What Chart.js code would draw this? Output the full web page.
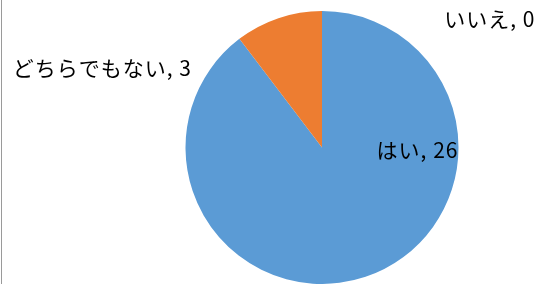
<!DOCTYPE html>
<html>
<head>
<meta charset="utf-8">
<script src="https://cdn.jsdelivr.net/npm/chart.js@4"></script>
<style>
  body { margin: 0; background: #fff; }
  #wrap { position: relative; width: 543px; height: 284px; }
  #edge { position: absolute; left: 1px; top: 0; width: 1px; height: 284px; background: #9a9a9a; }
</style>
</head>
<body>
<div id="wrap">
  <canvas id="pieChart" width="543" height="284"></canvas>
  <div id="edge"></div>
</div>
<script>
// データ
const categories = ['はい', 'いいえ', 'どちらでもない'];
const counts = [26, 0, 3];
const colors = ['#5b9bd5', '#a5a5a5', '#ed7d31'];

// ラベル位置 (中心からの半径比)
const labelPos = [[0.70, 0.02], [1.23, -0.94], [-1.61, -0.58]];

const labelPlugin = {
    id: 'pieLabels',
    afterDatasetsDraw(chart) {
        const ctx = chart.ctx;
        const arcs = chart.getDatasetMeta(0).data;
        ctx.save();
        ctx.font = '21px "Noto Sans CJK JP"';
        ctx.letterSpacing = '1px';
        ctx.fillStyle = '#000';
        ctx.textAlign = 'center';
        ctx.textBaseline = 'middle';
        arcs.forEach(function (arc, i) {
            const r = arc.outerRadius;
            const x = arc.x + labelPos[i][0] * r;
            const y = arc.y + labelPos[i][1] * r;
            ctx.fillText(categories[i] + ', ' + counts[i], x, y);
        });
        ctx.restore();
    }
};

const ctx = document.getElementById('pieChart').getContext('2d');
const pieChart = new Chart(ctx, {
    type: 'pie',
    data: {
        labels: categories,
        datasets: [{
            data: counts,
            backgroundColor: colors,
            borderWidth: 0
        }]
    },
    options: {
        responsive: false,
        animation: false,
        layout: {
            padding: { left: 185, right: 84, top: 11, bottom: 0 }
        },
        plugins: {
            legend: { display: false },
            tooltip: { enabled: false }
        }
    },
    plugins: [labelPlugin]
});
</script>
</body>
</html>
